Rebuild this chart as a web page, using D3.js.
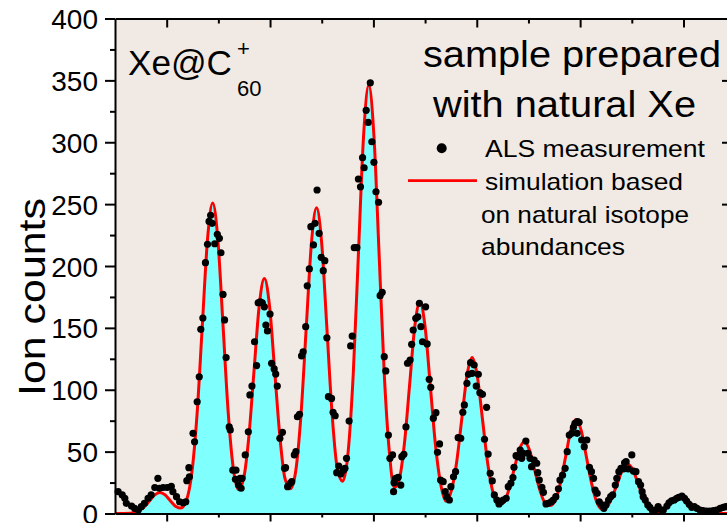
<!DOCTYPE html>
<html>
<head>
<meta charset="utf-8">
<script src="https://cdn.jsdelivr.net/npm/d3@7"></script>
<style>
  html, body { margin: 0; padding: 0; background: #ffffff; }
  svg { display: block; }
  text { font-family: "Liberation Sans", Arial, Helvetica, sans-serif; fill: #000; }
</style>
</head>
<body>
<svg id="chart" width="727" height="523"></svg>
<script>
// Simulated Xe@C60+ isotope pattern (natural Xe abundances): mass (u) and ion counts
const simMass = [
  847.0, 847.3, 847.47, 847.57, 847.67, 847.77, 847.87, 847.97, 848.07, 848.17, 848.27, 848.38,
  848.49, 848.59, 848.69, 848.79, 848.89, 848.99, 849.09, 849.19, 849.29, 849.39,
  849.49, 849.59, 849.69, 849.79, 849.89, 849.99, 850.09, 850.19, 850.29, 850.395,
  850.50, 850.60, 850.70, 850.80, 850.90, 851.00, 851.10, 851.20, 851.30, 851.405,
  851.51, 851.61, 851.71, 851.81, 851.91, 852.01, 852.11, 852.21, 852.31, 852.405,
  852.50, 852.60, 852.70, 852.80, 852.90, 853.00, 853.10, 853.20, 853.30, 853.405,
  853.51, 853.61, 853.71, 853.81, 853.91, 854.01, 854.11, 854.21, 854.31, 854.415,
  854.52, 854.62, 854.72, 854.82, 854.92, 855.02, 855.12, 855.22, 855.32, 855.42,
  855.52, 855.62, 855.72, 855.82, 855.92, 856.02, 856.12, 856.22, 856.32, 856.42,
  856.52, 856.62, 856.72, 856.82, 856.92, 857.02, 857.12, 857.22, 857.32, 857.425,
  857.53, 857.63, 857.73, 857.83, 857.93, 858.03, 858.13, 858.23, 858.33, 858.43, 858.6, 858.9
];
const simCounts = [
  0, 0.3, 2.3, 5.5, 10.3, 15, 17, 15, 10.3, 5.9, 4.4, 10.4,
  34, 81.5, 152.2, 221.5, 251, 221.5, 152.2, 81.9, 36.1, 19.3,
  28.5, 62.2, 115.2, 167.7, 190, 167.7, 115.2, 62.2, 28.1, 20,
  35.2, 80.5, 149.8, 218, 247, 218, 149.8, 80.8, 36.7, 26,
  49.2, 112.7, 209.8, 305.3, 346, 305.3, 209.8, 112.7, 49, 21,
  27.6, 56.4, 103.7, 150.9, 171, 150.9, 103.7, 55.7, 24.3, 10,
  18.6, 41.2, 76.4, 111.2, 126, 111.2, 76.4, 41, 17.6, 7.6,
  9, 19.1, 35.2, 51.2, 58, 51.2, 35.2, 19, 8.6, 6.5,
  10.9, 24.8, 46.1, 67.1, 76, 67.1, 46.1, 24.8, 9.5, 3.5,
  5.5, 13.2, 24.3, 35.3, 40, 35.3, 24.3, 13, 4.5, 1,
  1.5, 4.5, 8.5, 12.4, 14, 12.4, 8.5, 4.5, 1.9, 0.6, 0.05, 0
];

// ALS measurement: mass (u) and ion counts
const dotMass = [
  847.06, 847.14, 847.19, 847.22, 847.32, 847.38, 847.45, 847.51, 847.57, 847.64,
  847.70, 847.77, 847.83, 847.86, 847.93, 848.01, 848.09, 848.12, 848.19, 848.25,
  848.32, 848.37, 848.39, 848.43, 848.44, 848.51, 848.54, 848.59, 848.63, 848.66,
  848.70, 848.75, 848.79, 848.82, 848.85, 848.88, 848.93, 848.98, 849.02, 849.05,
  849.09, 849.12, 849.15, 849.21, 849.23, 849.28, 849.33, 849.34, 849.39, 849.42,
  849.44, 849.46, 849.52, 849.58, 849.61, 849.65, 849.70, 849.74, 849.77, 849.81,
  849.85, 849.89, 849.92, 849.95, 850.00, 850.03, 850.08, 850.11, 850.14, 850.19,
  850.24, 850.28, 850.30, 850.34, 850.39, 850.42, 850.47, 850.50, 850.53, 850.57,
  850.61, 850.64, 850.69, 850.72, 850.76, 850.79, 850.84, 850.87, 850.91, 850.95,
  850.99, 851.03, 851.06, 851.10, 851.13, 851.19, 851.22, 851.26, 851.29, 851.33,
  851.37, 851.42, 851.45, 851.48, 851.53, 851.56, 851.59, 851.63, 851.68, 851.71,
  851.75, 851.79, 851.82, 851.86, 851.90, 851.94, 851.97, 852.01, 852.05, 852.10,
  852.13, 852.17, 852.21, 852.24, 852.29, 852.32, 852.37, 852.39, 852.40, 852.43,
  852.48, 852.53, 852.55, 852.59, 852.63, 852.66, 852.71, 852.74, 852.77, 852.82,
  852.86, 852.89, 852.92, 852.95, 853.01, 853.04, 853.08, 853.11, 853.16, 853.21,
  853.24, 853.28, 853.30, 853.35, 853.39, 853.42, 853.47, 853.50, 853.55, 853.59,
  853.64, 853.69, 853.73, 853.76, 853.81, 853.84, 853.88, 853.91, 853.95, 853.99,
  854.03, 854.06, 854.11, 854.15, 854.19, 854.22, 854.26, 854.30, 854.34, 854.39,
  854.43, 854.47, 854.51, 854.57, 854.61, 854.66, 854.70, 854.72, 854.76, 854.80,
  854.84, 854.87, 854.90, 854.95, 854.99, 855.03, 855.06, 855.11, 855.16, 855.18,
  855.21, 855.26, 855.29, 855.34, 855.38, 855.44, 855.48, 855.53, 855.58, 855.61,
  855.66, 855.71, 855.75, 855.79, 855.84, 855.87, 855.90, 855.94, 855.95, 855.98,
  856.03, 856.08, 856.13, 856.18, 856.22, 856.26, 856.29, 856.33, 856.37, 856.42,
  856.46, 856.50, 856.55, 856.59, 856.63, 856.68, 856.71, 856.75, 856.79, 856.84,
  856.86, 856.89, 856.93, 857.00, 857.03, 857.08, 857.13, 857.17, 857.20, 857.22,
  857.26, 857.31, 857.35, 857.40, 857.45, 857.51, 857.57, 857.61, 857.68, 857.72,
  857.77, 857.82, 857.87, 857.91, 857.97, 858.02, 858.06, 858.11, 858.16, 858.21,
  858.26, 858.32, 858.38, 858.45, 858.51, 858.58, 858.64, 858.71, 858.77, 858.82,
  858.88
];
const dotCounts = [
  17.6, 15, 12.3, 8.2, 6, 4.2, 2.8, 5.5, 8.2, 12.3,
  15, 21, 28.4, 20.4, 21, 21, 22, 17.6, 13.6, 9.5,
  8.7, 9.5, 26.5, 37, 29.7, 64.8, 58, 90.3, 110.5, 148.8,
  158, 202.7, 217.5, 236, 241, 234.5, 218, 225.6, 222.4, 210.7,
  177, 156.4, 126, 70, 67.5, 35, 27.6, 35, 23, 28.4,
  20.4, 28.4, 47.3, 66, 95.8, 103, 138.8, 119.5, 170.3, 171,
  170.3, 167, 152.3, 147.5, 161.2, 121.4, 116.8, 112.7, 103, 60.8,
  65.6, 36.5, 37, 21.7, 24.4, 25.7, 47.3, 50, 78.2, 80.2,
  127.3, 130.7, 151, 184, 197.6, 231.8, 217, 234.5, 261.4, 226.4,
  207, 196.2, 204.3, 142, 94.4, 93, 81.8, 79, 33, 38.4,
  32, 35, 36.5, 44.6, 74.7, 135.4, 143.4, 214.8, 214.8, 270.3,
  264, 287.5, 279.4, 325.8, 316, 348, 300.4, 283.8, 260, 251.5,
  176, 178.7, 126.7, 115.2, 63.4, 44.6, 47.3, 17.6, 24.9, 28.4,
  29.2, 23, 45.9, 47.8, 70, 121.4, 124, 136.7, 148.3, 157.7,
  159, 169.8, 151, 138.8, 167, 137, 108.4, 102, 77, 81.5,
  49.4, 56.2, 27, 25.7, 17.6, 13.6, 10.9, 21.7, 29.7, 33.8,
  61.3, 60.8, 81.8, 87.7, 105.2, 112.5, 121.9, 113.3, 120, 103,
  112.5, 97.6, 96.3, 60, 85.8, 48, 32.5, 26.3, 15, 10.9,
  7.7, 9.5, 10.9, 12.3, 21.7, 24.4, 29, 37.3, 46.7, 45.9,
  51.3, 44.6, 48.6, 58.6, 48.6, 44.6, 37.8, 43.2, 40.6, 33,
  27, 21.2, 17.1, 7.7, 8.2, 9.5, 10.9, 13.6, 20, 27,
  31, 36.5, 50, 63.4, 64.8, 69.7, 72.9, 64.8, 74.2, 73.7,
  59.4, 54, 59.4, 37.3, 33.8, 28.4, 19, 16.3, 9.5, 6.9,
  4.2, 6.9, 10.9, 13.6, 15, 23, 28.4, 33.8, 36.5, 36,
  41, 41.9, 36, 47.3, 34.3, 33.8, 25.7, 23, 17.6, 13.6,
  10.9, 6.9, 5, 2.3, 2.8, 5.5, 2.8, 2.8, 6, 8.7,
  10.3, 10.9, 12.3, 13.1, 14.1, 12.3, 10.1, 7.4, 5, 5.5,
  4.2, 2.8, 2.3, 2, 2, 2.3, 2.8, 4.2, 5, 5.5,
  6
];

// Axis ticks
const yMajorTicks = [0, 50, 100, 150, 200, 250, 300, 350, 400];
const yMinorTicks = [25, 75, 125, 175, 225, 275, 325, 375];
const xMajorTicks = [848, 850, 852, 854, 856, 858];
const xMinorTicks = [849, 851, 853, 855, 857];

const svg = d3.select("#chart");
const plot = { left: 115, right: 730, top: 18.5, bottom: 513.5 };

const x = d3.scaleLinear().domain([847, 858.9]).range([plot.left, plot.right]);
const y = d3.scaleLinear().domain([0, 400]).range([plot.bottom, plot.top]);

// Plot background
svg.append("rect")
  .attr("x", plot.left).attr("y", plot.top)
  .attr("width", plot.right - plot.left).attr("height", plot.bottom - plot.top)
  .attr("fill", "#f1eae4");

const sim = simMass.map((m, i) => ({ m, c: simCounts[i] }));
const dots = dotMass.map((m, i) => ({ m, c: dotCounts[i] }));

svg.append("clipPath").attr("id", "plotClip")
  .append("rect")
  .attr("x", plot.left).attr("y", plot.top)
  .attr("width", plot.right - plot.left).attr("height", plot.bottom - plot.top);

const g = svg.append("g").attr("clip-path", "url(#plotClip)");

// Filled simulation area
g.append("path")
  .datum(sim)
  .attr("fill", "#80ffff")
  .attr("d", d3.area().curve(d3.curveMonotoneX)
    .x(d => x(d.m)).y0(y(0)).y1(d => y(d.c)));

// Simulation line
g.append("path")
  .datum(sim)
  .attr("fill", "none")
  .attr("stroke", "#ff0000")
  .attr("stroke-width", 3)
  .attr("d", d3.line().curve(d3.curveMonotoneX)
    .x(d => x(d.m)).y(d => y(d.c)));

// Measured points
svg.append("g")
  .selectAll("circle")
  .data(dots)
  .join("circle")
  .attr("cx", d => x(d.m))
  .attr("cy", d => y(d.c))
  .attr("r", 3.6)
  .attr("fill", "#000");

// Axes
function styleAxis(sel, fontSize) {
  sel.selectAll("path.domain").attr("stroke", "#000").attr("stroke-width", 2);
  sel.selectAll(".tick line").attr("stroke", "#000").attr("stroke-width", 2);
  sel.selectAll(".tick text")
    .attr("font-size", fontSize)
    .attr("font-family", "'Liberation Sans', Arial, sans-serif")
    .attr("fill", "#000");
  sel.attr("font-family", null).attr("font-size", null);
}

const leftAxis = svg.append("g").attr("transform", `translate(${plot.left},0)`)
  .call(d3.axisLeft(y).tickValues(yMajorTicks).tickSize(10).tickSizeOuter(0).tickPadding(7));
styleAxis(leftAxis, 28);
leftAxis.selectAll(".tick text").attr("dy", "0.36em");

const leftMinor = svg.append("g").attr("transform", `translate(${plot.left},0)`)
  .call(d3.axisLeft(y).tickValues(yMinorTicks).tickSize(5).tickSizeOuter(0).tickFormat(""));
styleAxis(leftMinor, 0);
leftMinor.select("path.domain").remove();

const rightAxis = svg.append("g").attr("transform", `translate(${plot.right},0)`)
  .call(d3.axisRight(y).tickValues(yMajorTicks).tickSize(-8).tickSizeOuter(0).tickFormat(""));
styleAxis(rightAxis, 0);

const bottomAxis = svg.append("g").attr("transform", `translate(0,${plot.bottom})`)
  .call(d3.axisBottom(x).tickValues(xMajorTicks).tickSize(8).tickSizeOuter(0).tickFormat(""));
styleAxis(bottomAxis, 0);
const bottomMinor = svg.append("g").attr("transform", `translate(0,${plot.bottom})`)
  .call(d3.axisBottom(x).tickValues(xMinorTicks).tickSize(4).tickSizeOuter(0).tickFormat(""));
styleAxis(bottomMinor, 0);
bottomMinor.select("path.domain").remove();

const topAxis = svg.append("g").attr("transform", `translate(0,${plot.top})`)
  .call(d3.axisTop(x).tickValues(xMajorTicks).tickSize(-9).tickSizeOuter(0).tickFormat(""));
styleAxis(topAxis, 0);
const topMinor = svg.append("g").attr("transform", `translate(0,${plot.top})`)
  .call(d3.axisTop(x).tickValues(xMinorTicks).tickSize(-5).tickSizeOuter(0).tickFormat(""));
styleAxis(topMinor, 0);
topMinor.select("path.domain").remove();

// Y axis title
svg.append("text")
  .attr("transform", "translate(45,297) rotate(-90)")
  .attr("text-anchor", "middle")
  .attr("font-size", 36)
  .attr("textLength", 198).attr("lengthAdjust", "spacingAndGlyphs")
  .text("Ion counts");

// Species label: Xe@C60+
svg.append("text").attr("x", 128).attr("y", 75).attr("font-size", 35)
  .attr("textLength", 104).attr("lengthAdjust", "spacingAndGlyphs")
  .text("Xe@C");
svg.append("text").attr("x", 237).attr("y", 56).attr("font-size", 22).text("+");
svg.append("text").attr("x", 237).attr("y", 96).attr("font-size", 22).text("60");

// Sample description
svg.append("text").attr("x", 423).attr("y", 67).attr("font-size", 36)
  .attr("textLength", 298).attr("lengthAdjust", "spacingAndGlyphs")
  .text("sample prepared");
svg.append("text").attr("x", 433).attr("y", 117).attr("font-size", 36)
  .attr("textLength", 263).attr("lengthAdjust", "spacingAndGlyphs")
  .text("with natural Xe");

// Legend
svg.append("circle").attr("cx", 441.7).attr("cy", 148.3).attr("r", 5).attr("fill", "#000");
svg.append("line").attr("x1", 408).attr("x2", 477).attr("y1", 180.7).attr("y2", 180.7)
  .attr("stroke", "#ff0000").attr("stroke-width", 2.7);

const legendLines = [
  { t: "ALS measurement", x: 485, y: 157, w: 220 },
  { t: "simulation based", x: 485, y: 190, w: 198 },
  { t: "on natural isotope", x: 481, y: 223, w: 208 },
  { t: "abundances", x: 481, y: 255, w: 144 }
];
svg.append("g").selectAll("text")
  .data(legendLines)
  .join("text")
  .attr("x", d => d.x).attr("y", d => d.y)
  .attr("font-size", 24)
  .attr("textLength", d => d.w).attr("lengthAdjust", "spacingAndGlyphs")
  .text(d => d.t);
</script>
</body>
</html>
